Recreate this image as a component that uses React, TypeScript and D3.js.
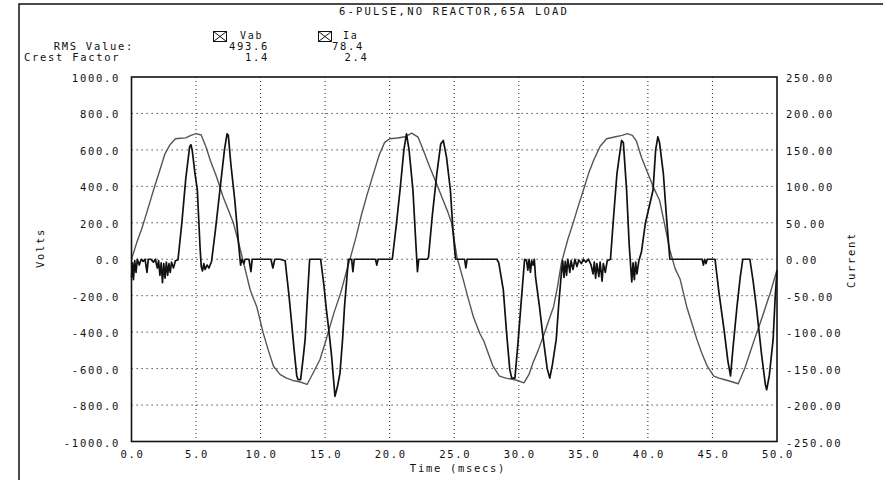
import React from "react";
import * as d3 from "d3";

// tick labels
const timeTicks = [0, 5, 10, 15, 20, 25, 30, 35, 40, 45, 50];
const voltTicks = [-1000, -800, -600, -400, -200, 0, 200, 400, 600, 800, 1000];
const currentTicks = [-250, -200, -150, -100, -50, 0, 50, 100, 150, 200, 250];

// Vab (volts)
const vTime = [0, 0.4, 0.8, 1.2, 1.7, 2.2, 2.6, 3.0, 3.4, 3.8, 4.2, 4.6, 5.0, 5.4, 5.8, 6.1, 6.6, 7.1, 7.5, 7.9,
  8.3, 8.7, 9.2, 9.7, 10.2, 10.6, 11.0, 11.5, 12.0, 12.5, 13.0, 13.6, 14.1, 14.6, 15.0, 15.3, 15.7, 16.2, 16.6,
  17.0, 17.4, 17.8, 18.2, 18.7, 19.2, 19.6, 20.0, 20.6, 21.2, 21.7, 22.2, 22.6, 23.1, 23.6, 24.1, 24.5, 24.8,
  25.2, 25.7, 26.1, 26.5, 27.0, 27.3, 27.7, 28.0, 28.5, 29.0, 29.6, 30.0, 30.4, 30.8, 31.1, 31.5, 31.9, 32.3,
  32.7, 33.0, 33.3, 33.8, 34.2, 34.6, 35.0, 35.4, 35.8, 36.3, 36.8, 37.5, 38.0, 38.4, 38.8, 39.1, 39.5, 39.9,
  40.4, 40.9, 41.3, 41.7, 42.1, 42.5, 43.0, 43.4, 43.8, 44.2, 44.6, 45.1, 45.5, 45.9, 46.5, 47.0, 47.5, 47.9,
  48.3, 48.7, 49.1, 49.5, 50.0];
const vVolts = [0, 90, 169, 260, 379, 490, 580, 630, 661, 664, 666, 680, 689, 682, 610, 543, 450, 342, 270, 197,
  90, -25, -170, -260, -404, -500, -587, -632, -652, -665, -672, -687, -620, -550, -460, -386, -290, -186, -80,
  20, 124, 240, 342, 460, 575, 640, 661, 665, 672, 692, 670, 600, 506, 420, 330, 260, 197,
  14, -113, -220, -320, -410, -450, -530, -587, -641, -652, -660, -668, -678, -630, -568, -500, -423, -340,
  -259, -150, -20, 110, 197, 290, 379, 470, 543, 620, 661, 672, 680, 689, 680, 650, 560, 488,
  400, 324, 190, 51, -50, -110, -259, -350, -441, -520, -587, -641, -652, -660, -672, -683, -600, -514,
  -430, -350, -265, -180, -58];

// Ia (amps)
const iTime = [0, 0.08, 0.15, 0.25, 0.35, 0.45, 0.6, 0.75, 0.9, 1.05, 1.2, 1.3, 1.5, 1.7, 1.85, 2.0, 2.1, 2.2, 2.3,
  2.4, 2.5, 2.6, 2.7, 2.8, 2.9, 3.0, 3.1, 3.25, 3.4, 3.6,
  3.9, 4.2, 4.5, 4.6, 4.7, 4.9, 5.1, 5.3, 5.4, 5.5, 5.6, 5.7, 5.85, 6.0, 6.2, 6.5, 6.85, 7.2, 7.4, 7.5, 7.7,
  8.0, 8.3, 8.45, 8.55, 8.7, 8.8, 9.1, 9.25, 9.35, 10.8, 10.95, 11.1, 11.5, 11.9,
  12.2, 12.4, 12.6, 12.8, 12.9, 13.1, 13.3, 13.45, 13.65, 13.8, 14.65, 14.9, 15.07, 15.3, 15.5, 15.76, 15.95,
  16.15, 16.35, 16.5, 16.8, 17.05, 17.15, 17.25, 18.9, 19.0, 19.1, 20.2,
  20.5, 20.8, 21.1, 21.3, 21.5, 21.8, 22.0, 22.15, 22.25, 22.9, 23.0, 23.3, 23.65, 23.95, 24.15, 24.4, 24.7,
  24.9, 25.1, 25.8, 25.9, 26.0, 28.3, 28.45,
  28.8, 29.05, 29.3, 29.45, 29.7, 29.96, 30.2, 30.45, 30.6, 30.7, 30.8, 30.9, 31.0, 31.1, 31.2, 31.3, 31.6,
  31.9, 32.2, 32.4, 32.6, 32.9, 33.1, 33.3, 33.4,
  33.5, 33.6, 33.7, 33.8, 33.95, 34.05, 34.2, 34.35, 34.5, 34.65, 34.85, 35.0, 35.2, 35.4, 35.6, 35.75, 35.85,
  35.95, 36.05, 36.2, 36.3, 36.45, 36.55, 36.7, 36.85, 37.1,
  37.35, 37.6, 37.96, 38.1, 38.35, 38.55, 38.75, 38.85, 38.95, 39.05, 39.15, 39.3, 39.5, 39.8, 40.1, 40.4,
  40.6, 40.77, 40.9, 41.2, 41.45, 41.7, 44.2, 44.3, 44.4, 44.5, 44.6, 45.2,
  45.5, 45.9, 46.2, 46.4, 46.6, 46.9, 47.15, 47.35, 47.9, 48.15, 48.4, 48.8, 49.1, 49.2, 49.4, 49.7, 49.85, 50.0];
const iAmps = [-25, -5, -28, -2, -18, 0, -8, 0, -3, 0, -18, 0, 0, -4, 0, -12, -2, -22, -5,
  -32, -6, -26, -4, -22, -6, -18, -4, -12, -2, -1,
  50, 110, 154, 157, 150, 120, 95, 20, -10, -16, -6, -14, -8, -12, -3, 40, 95, 150, 172, 170, 130,
  81, 20, -8, 0, -6, 0, 0, -17, 0, 0, -12, 0, 0, -2,
  -50, -87, -125, -160, -165, -165, -135, -110, -45, 0, 0, -35, -65, -100, -133, -188, -175,
  -156, -110, -65, 0, 0, -17, 0, 0, -8, 0, 0,
  45, 95, 150, 172, 150, 95, 30, -17, 0, 0, 2, 60, 117, 158, 163, 140, 95,
  40, 0, 0, -12, 0, 0, -5,
  -42, -100, -151, -163, -163, -110, -55, 0, -2, -15, 0, -18, -2, -8, 0, -25, -65,
  -110, -150, -163, -145, -110, -60, -19, -2,
  -25, -3, -22, 0, -18, -2, -14, 0, -10, -1, -6, 0, -4, 0, -8, -20, -4,
  -26, -6, -24, -4, -30, -6, -18, -2, 0,
  60, 117, 163, 160, 95, 20, -31, -5, -28, -4, -20, -2, 10, 49, 72, 95,
  150, 168, 160, 117, 55, 0, 0, -8, 0, -6, 0, 0,
  -45, -97, -140, -160, -120, -65, -25, 0, 0, -30, -65, -130, -172, -179, -160, -110, -55, -15];

const W = 883, H = 480;
const left = 131.5, right = 777, top = 77, bottom = 441.5;
const font = "'DejaVu Sans Mono', monospace";

export default function App() {
  const x = d3.scaleLinear().domain([0, 50]).range([left, right]);
  const yV = d3.scaleLinear().domain([-1000, 1000]).range([bottom, top]);
  const yI = d3.scaleLinear().domain([-250, 250]).range([bottom, top]);

  const vLine = d3.line<number>().x((d, i) => x(vTime[i])).y(d => yV(d));
  const iLine = d3.line<number>().x((d, i) => x(iTime[i])).y(d => yI(d));

  const txt = { fontFamily: font, fontSize: 10.5, letterSpacing: 1.7, fill: "#111" } as const;
  const small = { ...txt, fontSize: 10 };

  return (
    <svg width={W} height={H} style={{ position: "absolute", left: 0, top: 0, background: "#fff" }}>
      {/* outer frame */}
      <rect x={19} y={4} width={900} height={520} fill="none" stroke="#111" strokeWidth={1.5} />
      <text x={454} y={15} textAnchor="middle" {...txt} letterSpacing={2.2}>6-PULSE,NO REACTOR,65A LOAD</text>

      {/* legend block */}
      <text x={134} y={50} textAnchor="end" {...txt}>RMS Value:</text>
      <text x={24} y={61} {...txt}>Crest Factor</text>
      <g>
        <rect x={213.5} y={31.5} width={13} height={10} fill="none" stroke="#111" strokeWidth={1} />
        <line x1={213.5} y1={31.5} x2={226.5} y2={41.5} stroke="#111" />
        <line x1={226.5} y1={31.5} x2={213.5} y2={41.5} stroke="#111" />
        <text x={240} y={38.5} {...small}>Vab</text>
        <text x={269} y={50} textAnchor="end" {...txt}>493.6</text>
        <text x={269} y={61} textAnchor="end" {...txt}>1.4</text>
      </g>
      <g>
        <rect x={318.5} y={31.5} width={13} height={10} fill="none" stroke="#111" strokeWidth={1} />
        <line x1={318.5} y1={31.5} x2={331.5} y2={41.5} stroke="#111" />
        <line x1={331.5} y1={31.5} x2={318.5} y2={41.5} stroke="#111" />
        <text x={343} y={38.5} {...small}>Ia</text>
        <text x={364} y={50} textAnchor="end" {...txt}>78.4</text>
        <text x={368.5} y={61} textAnchor="end" {...txt}>2.4</text>
      </g>

      {/* grid */}
      {timeTicks.slice(1, -1).map(t => (
        <line key={"gx" + t} x1={x(t)} x2={x(t)} y1={top} y2={bottom}
          stroke="#222" strokeWidth={1} strokeDasharray="1,3" />
      ))}
      {voltTicks.slice(1, -1).map(v => (
        <line key={"gy" + v} x1={left} x2={right} y1={yV(v)} y2={yV(v)}
          stroke="#222" strokeWidth={1} strokeDasharray="1.2,3.8" />
      ))}

      {/* traces */}
      <path d={vLine(vVolts) ?? ""} fill="none" stroke="#555" strokeWidth={1.4} strokeLinejoin="round" />
      <path d={iLine(iAmps) ?? ""} fill="none" stroke="#111" strokeWidth={1.7} strokeLinejoin="round" />

      <rect x={left} y={top} width={right - left} height={bottom - top} fill="none" stroke="#111" strokeWidth={1.6} />

      {/* axes labels */}
      {voltTicks.map(v => (
        <text key={"yl" + v} x={120} y={yV(v) + 5} textAnchor="end" {...txt}>{v.toFixed(1)}</text>
      ))}
      {currentTicks.map(c => (
        <text key={"yr" + c} x={786} y={yI(c) + 5} {...txt}>{c.toFixed(2)}</text>
      ))}
      {timeTicks.map(t => (
        <text key={"xl" + t} x={x(t) + 1} y={458} textAnchor="middle" {...txt}>{t.toFixed(1)}</text>
      ))}
      <text x={458} y={471.5} textAnchor="middle" {...txt}>Time (msecs)</text>
      <text transform="translate(44,248) rotate(-90)" textAnchor="middle" {...txt}>Volts</text>
      <text transform="translate(855,260) rotate(-90)" textAnchor="middle" {...txt}>Current</text>
    </svg>
  );
}
